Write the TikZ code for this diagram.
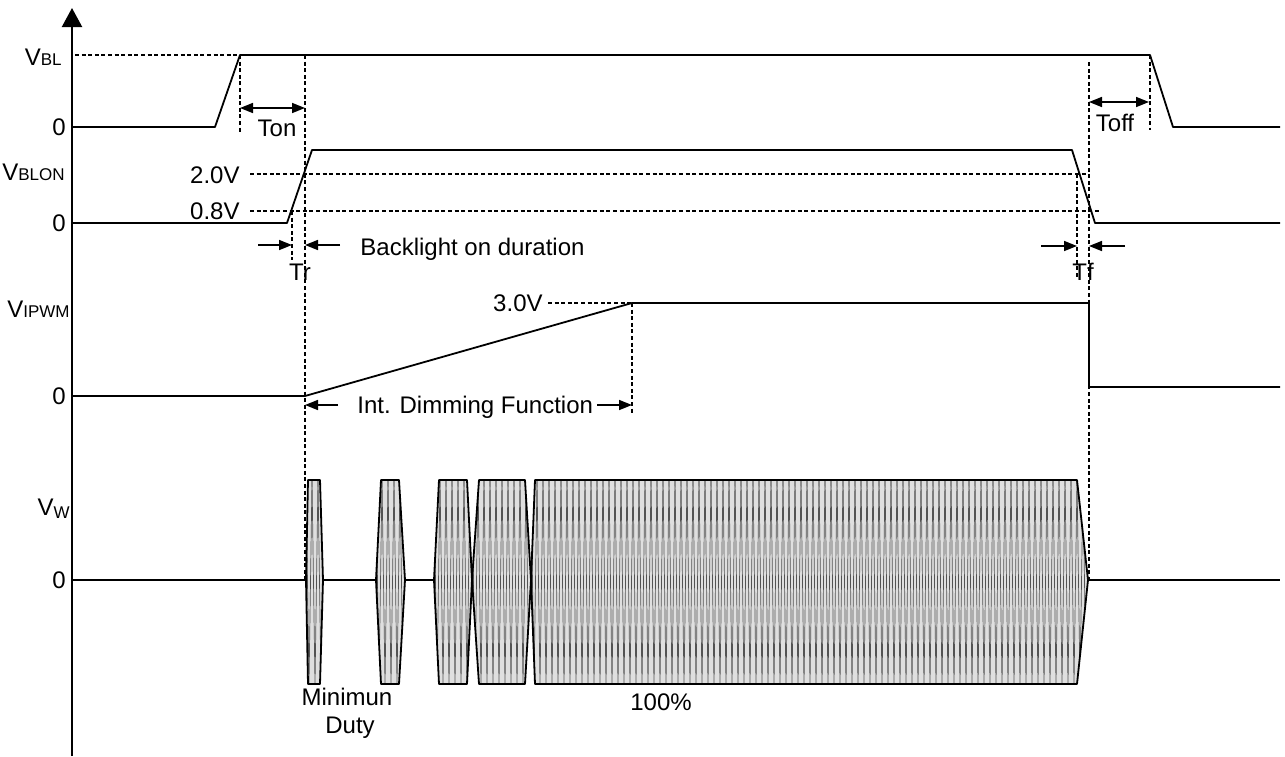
\documentclass[tikz,border=0pt]{standalone}
\usepackage{fontspec}
\setmainfont{Liberation Sans}
\usetikzlibrary{arrows.meta}

\newcommand{\lsub}[1]{{\fontsize{8.5}{10}\selectfont #1}}
\newcommand{\pwmburst}[4]{%
  \begin{scope}
    \clip (#1,480) -- (#2,480) -- (#4,580) -- (#2,684) -- (#1,684) -- (#3,580) -- cycle;
    \fill[gray!25] (#3,480) rectangle (#4,684);
    \pgfmathsetmacro\zstep{#3+6}
    \foreach \z in {#3,\zstep,...,#4}
      \draw[zig] (\z,480) -- (\z+3,684) -- (\z+6,480);
  \end{scope}
  \draw[trace] (#1,480) -- (#2,480) -- (#4,580) -- (#2,684) -- (#1,684) -- (#3,580) -- cycle;
}

\begin{document}
\begin{tikzpicture}[x=0.5pt, y=-0.5pt,
    trace/.style={line width=0.9pt, line join=round},
    guide/.style={line width=0.7pt, dash pattern=on 2pt off 1.3pt},
    zig/.style={line width=0.35pt, gray!65!black},
    dim/.style={line width=0.8pt, -{Triangle[length=6.5pt,width=5pt]}},
    dimboth/.style={line width=0.8pt, {Triangle[length=6.5pt,width=5pt]}-{Triangle[length=6.5pt,width=5pt]}},
    lbl/.style={inner sep=0pt, font=\fontsize{12}{14}\selectfont, text height=8.6pt, text depth=0pt}]
    \useasboundingbox (0,0) rectangle (1285,756);

    \coordinate (axbot) at (72,756);
    \coordinate (axtop) at (72,8);
    \draw[line width=1.1pt, -{Triangle[length=9.5pt,width=10pt]}] (axbot) -- (axtop);

    \node[lbl, anchor=base east, text height=] (vbl) at (62,65) {V\lsub{BL}};
    \node[lbl, anchor=base east, text height=] (vblon) at (65,180) {V\lsub{BLON}};
    \node[lbl, anchor=base east, text height=] (vipwm) at (70,317) {V\lsub{IPWM}};
    \node[lbl, anchor=base east, text height=] (vw) at (70,515) {V\raisebox{-1.5pt}{\lsub{W}}};
    \node[lbl, anchor=east] (zbl) at (66,127) {0};
    \node[lbl, anchor=east] (zblon) at (66,223) {0};
    \node[lbl, anchor=east] (zipwm) at (66,396) {0};
    \node[lbl, anchor=east] (zw) at (66,580) {0};

    \draw[trace] (72,127) -- (215,127) -- (240,55) -- (1150,55) -- (1173,127) -- (1280,127);
    \draw[trace] (72,223) -- (287,223) -- (312,150) -- (1072,150) -- (1095,223) -- (1280,223);
    \draw[trace] (72,396) -- (305,396) -- (632,303) -- (1089,303) -- (1089,387) -- (1280,387);
    \draw[trace] (72,580) -- (1280,580);

    \draw[guide] (75,55) -- (240,55);
    \draw[guide] (250,174) -- (1088,174);
    \draw[guide] (250,211) -- (1100,211);
    \draw[guide] (548,303) -- (632,303);
    \draw[guide] (240,55) -- (240,133);
    \draw[guide] (305,55) -- (305,580);
    \draw[guide] (292,211) -- (292,260);
    \draw[guide] (632,303) -- (632,415);
    \draw[guide] (1150,55) -- (1150,130);
    \draw[guide] (1089,62) -- (1089,580);
    \draw[guide] (1077,174) -- (1077,278);

    \node[lbl, anchor=east] (v20) at (240,175) {2.0V};
    \node[lbl, anchor=east] (v08) at (240,211) {0.8V};
    \node[lbl, anchor=east] (v30) at (543,303) {3.0V};

    \coordinate (ton-l) at (240,108);
    \coordinate (ton-r) at (305,108);
    \draw[dimboth] (ton-l) -- (ton-r);
    \node[lbl] (ton) at (277,128) {Ton};
    \coordinate (toff-l) at (1089,102);
    \coordinate (toff-r) at (1149,102);
    \draw[dimboth] (toff-l) -- (toff-r);
    \node[lbl] (toff) at (1115,123) {Toff};

    \coordinate (tr-a) at (258,245);
    \coordinate (tr-b) at (292,245);
    \coordinate (tr-c) at (340,245);
    \coordinate (tr-d) at (305,245);
    \draw[dim] (tr-a) -- (tr-b);
    \draw[dim] (tr-c) -- (tr-d);
    \node[lbl] (tr) at (300,272) {Tr};
    \node[lbl, anchor=west] (bon) at (360,247) {Backlight on duration};
    \coordinate (tf-a) at (1041,246);
    \coordinate (tf-b) at (1077,246);
    \coordinate (tf-c) at (1125,246);
    \coordinate (tf-d) at (1089,246);
    \draw[dim] (tf-a) -- (tf-b);
    \draw[dim] (tf-c) -- (tf-d);
    \node[lbl] (tf) at (1083,272) {Tf};

    \coordinate (idf-a) at (338,405);
    \coordinate (idf-b) at (305,405);
    \coordinate (idf-c) at (597,405);
    \coordinate (idf-d) at (632,405);
    \draw[dim] (idf-a) -- (idf-b);
    \draw[dim] (idf-c) -- (idf-d);
    \node[lbl, anchor=west] (idf) at (357,405) {Int. Dimming Function};

    \pwmburst{308}{320}{306}{323}
    \pwmburst{381}{399}{376}{405}
    \pwmburst{439}{467}{434}{472}
    \pwmburst{479}{525}{472}{531}
    \pwmburst{535}{1077}{531}{1088}

    \node[lbl] (mind) at (347,697) {Minimun};
    \node[lbl] (duty) at (350,725) {Duty};
    \node[lbl] (full) at (661,702) {100\%};
\end{tikzpicture}
\end{document}
